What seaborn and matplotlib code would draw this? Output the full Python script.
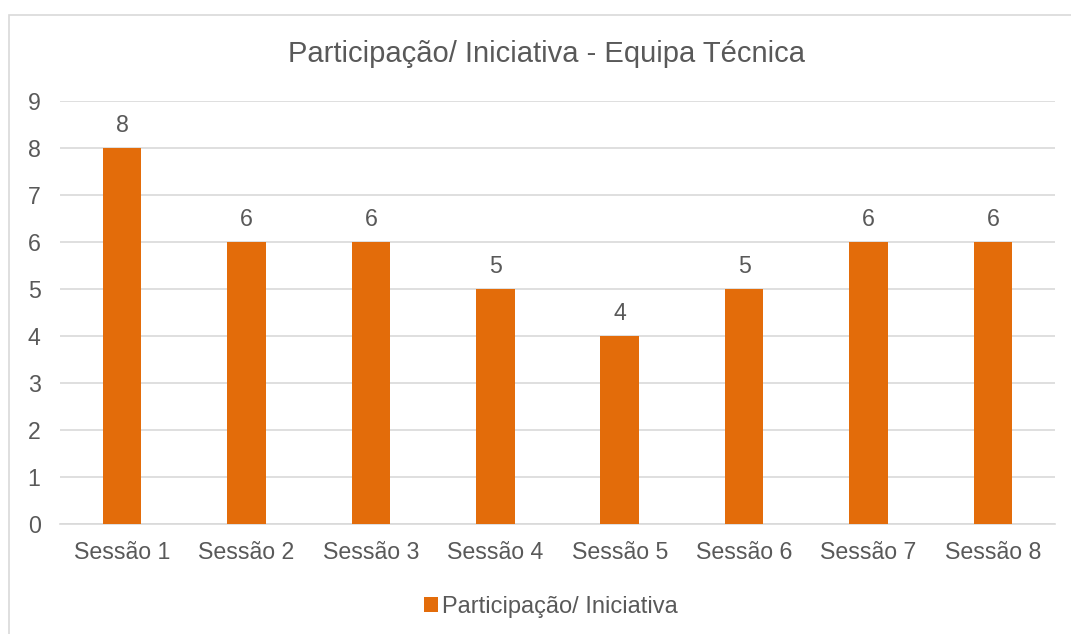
import matplotlib
matplotlib.use("Agg")
import matplotlib.pyplot as plt
import seaborn as sns
import pandas as pd
from matplotlib.patches import Rectangle, Patch

categories = ["Sessão 1", "Sessão 2", "Sessão 3", "Sessão 4", "Sessão 5", "Sessão 6", "Sessão 7", "Sessão 8"]
values = [8, 6, 6, 5, 4, 5, 6, 6]
series_name = "Participação/ Iniciativa"
title = "Participação/ Iniciativa - Equipa Técnica"
yticks = list(range(0, 10))

sns.set_theme(style="white")
plt.rcParams['font.family'] = ['Liberation Sans', 'DejaVu Sans']

grey = "#595959"
orange = "#E36C0A"

fig = plt.figure(figsize=(10.71, 6.34), dpi=100)
# chart border (only top and left visible)
fig.patches.append(Rectangle((9/1071, -0.1), 1.2, 1 - 15/634 + 0.1, transform=fig.transFigure,
                             fill=False, edgecolor="#D9D9D9", linewidth=1.2, zorder=0))

ax = fig.add_axes([60/1071, 1 - 524/634, 995/1071, (524 - 101)/634])
df = pd.DataFrame({"cat": categories, "val": values})
sns.barplot(data=df, x="cat", y="val", color=orange, saturation=1, width=0.31, ax=ax,
            zorder=3, linewidth=0, edgecolor="none")

ax.set_ylim(0, 9)
ax.set_yticks(yticks)
ax.set_xlim(-0.5, len(categories) - 0.5)
ax.grid(axis="y", color="#D9D9D9", linewidth=1.2, zorder=0)
ax.set_axisbelow(True)
for s in ["top", "right", "left"]:
    ax.spines[s].set_visible(False)
ax.spines["bottom"].set_color("#D9D9D9")
ax.spines["bottom"].set_linewidth(1.2)
ax.tick_params(axis="both", length=0, labelsize=16.7, colors=grey)
ax.tick_params(axis="x", pad=12)
ax.tick_params(axis="y", pad=14)
ax.set_xlabel("")
ax.set_ylabel("")

for i, v in enumerate(values):
    ax.annotate(str(v), (i, v), xytext=(0, 8), textcoords="offset points",
                ha="center", va="bottom", fontsize=16.7, color=grey)

fig.text(546/1071, 1 - 54/634, title, ha="center", va="center", fontsize=21, color=grey)

handle = Patch(facecolor=orange, edgecolor="none")
fig.legend([handle], [series_name], loc="center", bbox_to_anchor=(551/1071, 1 - 607/634),
           frameon=False, fontsize=17, labelcolor=grey, handlelength=0.6, handleheight=0.6,
           handletextpad=0.15)

fig.savefig("out.png", dpi=100)
